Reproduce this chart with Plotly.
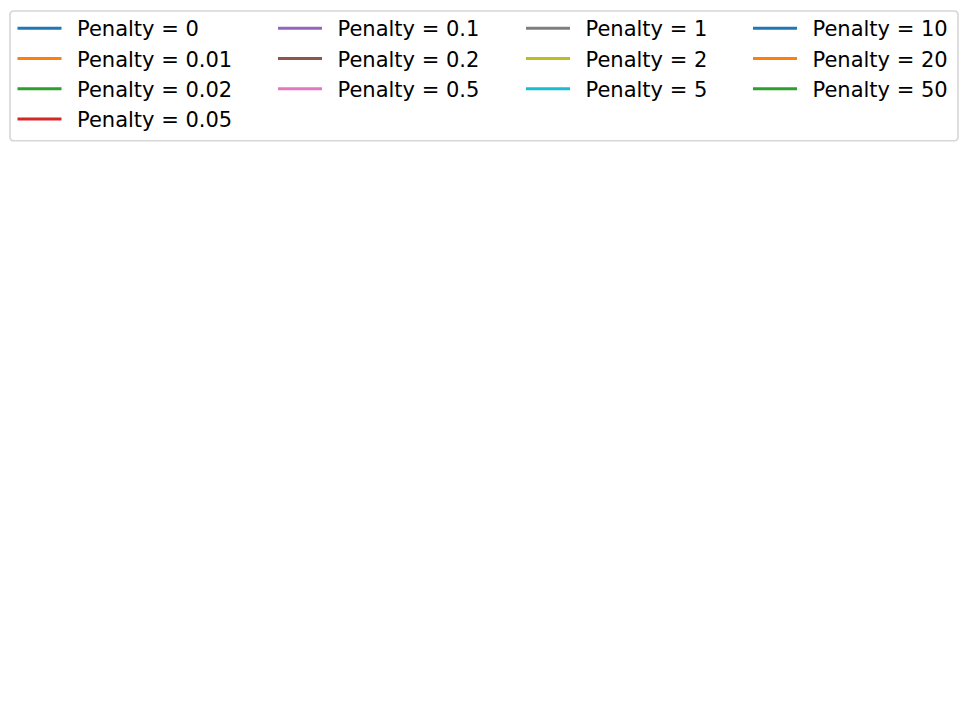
import plotly.graph_objects as go

# legend entries, laid out column by column like the original
penalties = ["0", "0.01", "0.02", "0.05", "0.1", "0.2", "0.5", "1", "2", "5", "10", "20", "50"]
colors = ["#1f77b4", "#ff7f0e", "#2ca02c", "#d62728", "#9467bd", "#8c564b", "#e377c2",
          "#7f7f7f", "#bcbd22", "#17becf", "#1f77b4", "#ff7f0e", "#2ca02c"]
columns = [4, 3, 3, 3]  # entries per legend column

W, H = 968, 726
OFF = 8  # page body margin shifts the figure by this much
col_x = [4.5, 265, 513, 740]  # left edge of each legend column, px

fig = go.Figure()

idx = 0
for c, n in enumerate(columns):
    leg = "legend" if c == 0 else "legend" + str(c + 1)
    for k in range(n):
        fig.add_trace(go.Scatter(
            x=[None], y=[None], mode="lines",
            name="\u2002Penalty = " + penalties[idx],
            line=dict(color=colors[idx], width=3),
            legend=leg, legendgroup=penalties[idx],
        ))
        idx += 1

layout_legends = {}
for c in range(len(columns)):
    key = "legend" if c == 0 else "legend" + str(c + 1)
    layout_legends[key] = dict(
        x=(col_x[c] - OFF) / W + OFF / W, y=1 + 1 / H, xanchor="left", yanchor="top",
        orientation="v", bgcolor="rgba(0,0,0,0)", borderwidth=0,
        font=dict(family="DejaVu Sans", size=21, color="black"),
        itemwidth=44, tracegroupgap=0,
    )

# the frame around the legend, rounded corners
x0, x1 = (10 - OFF) / W, (958 - OFF) / W
y0, y1 = 1 - (140 - OFF) / H, 1 - (10 - OFF) / H
rx, ry = 4 / W, 4 / H
path = (f"M{x0 + rx},{y1} L{x1 - rx},{y1} Q{x1},{y1} {x1},{y1 - ry} "
        f"L{x1},{y0 + ry} Q{x1},{y0} {x1 - rx},{y0} L{x0 + rx},{y0} "
        f"Q{x0},{y0} {x0},{y0 + ry} L{x0},{y1 - ry} Q{x0},{y1} {x0 + rx},{y1} Z")
fig.add_shape(type="path", path=path, xref="paper", yref="paper",
              line=dict(color="#d6d6d6", width=1.6), fillcolor="white", layer="below")

fig.update_layout(
    width=W, height=H,
    margin=dict(l=0, r=0, t=0, b=0),
    paper_bgcolor="white", plot_bgcolor="white",
    xaxis=dict(visible=False), yaxis=dict(visible=False),
    showlegend=True,
    **layout_legends,
)

fig.write_html("out.html")
